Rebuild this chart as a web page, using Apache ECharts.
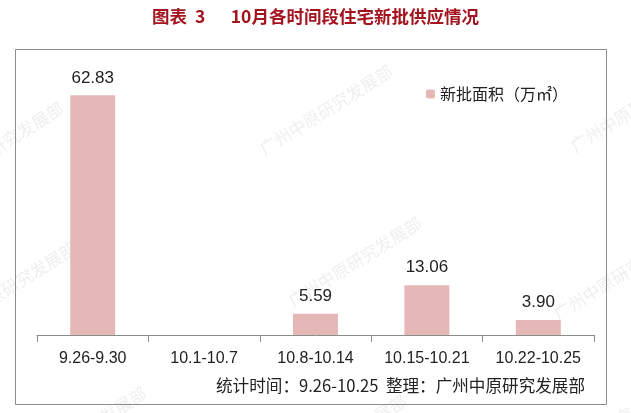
<!DOCTYPE html>
<html><head><meta charset="utf-8">
<script src="https://cdn.jsdelivr.net/npm/echarts@6/dist/echarts.min.js"></script>
<style>html,body{margin:0;padding:0;background:#fff}#c{width:631px;height:413px}</style>
</head><body><div id="c"></div>
<script>
var categories = ['9.26-9.30', '10.1-10.7', '10.8-10.14', '10.15-10.21', '10.22-10.25'];
var values = [62.83, null, 5.59, 13.06, 3.90];
var seriesName = '新批面积（万㎡）';
var titleText = '图表  3　  10月各时间段住宅新批供应情况';
var footerText = '统计时间：9.26-10.25  整理：广州中原研究发展部';
var watermarkText = '广州中原研究发展部';

var wmPos = [[-3,147],[326,110],[637,107],[10,287],[355,262],[620,275],[80,432],[340,440],[610,425]];
var watermarks = wmPos.map(function(p){
  return {type:'text', x:p[0], y:p[1], rotation:0.56, silent:true, z:-10,
    style:{text: watermarkText, align:'center', verticalAlign:'middle', fontSize:17,
      fill:'rgba(0,0,0,0.07)', fontFamily:'Noto Sans CJK SC'}};
});

var chart = echarts.init(document.getElementById('c'));
chart.setOption({
  backgroundColor: '#fff',
  animation: false,
  title: {
    text: titleText, left: 'center', top: 3,
    textStyle: {color: '#A3141F', fontSize: 17.5, fontWeight: 'bold', fontFamily: 'Noto Sans CJK SC'}
  },
  legend: {
    data: [seriesName], left: 421, top: 81, itemWidth: 9, itemHeight: 9, itemGap: 5,
    textStyle: {fontSize: 16, color: '#222', fontFamily: 'Noto Sans CJK SC'}
  },
  graphic: watermarks.concat([
    {type: 'rect', shape: {x: 15.5, y: 49.5, width: 591, height: 355}, style: {fill: 'none', stroke: '#8c8c8c', lineWidth: 1}, silent: true},
    {type: 'text', right: 46, top: 377, style: {text: footerText, fontSize: 16.6, fill: '#222', fontFamily: 'Noto Sans CJK SC'}}
  ]),
  grid: {left: 37, right: 37, top: 68, bottom: 78},
  xAxis: {
    type: 'category', data: categories,
    axisLine: {lineStyle: {color: '#8c8c8c'}},
    axisTick: {show: true, length: 7, lineStyle: {color: '#8c8c8c'}},
    axisLabel: {fontSize: 16, color: '#222', margin: 16, fontFamily: 'Liberation Sans'}
  },
  yAxis: {type: 'value', min: 0, max: 70, show: false, splitLine: {show: false}},
  series: [{
    name: seriesName, type: 'bar', data: values, barWidth: 45,
    itemStyle: {color: '#E5B8B7'},
    label: {show: true, position: 'top', distance: 9, fontSize: 17, color: '#222', fontFamily: 'Liberation Sans',
      formatter: function(p){ return p.value == null ? '' : p.value.toFixed(2); }}
  }]
});
</script></body></html>
